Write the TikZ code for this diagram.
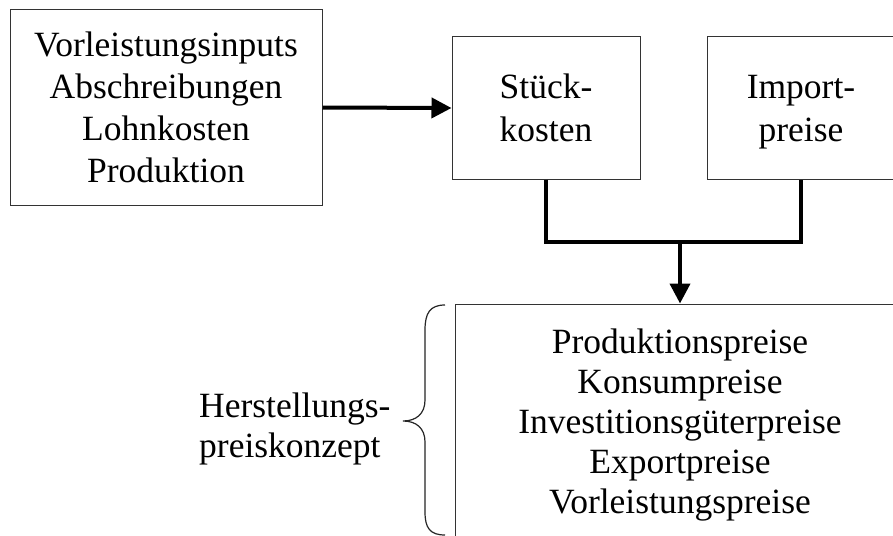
\documentclass[tikz,border=0pt]{standalone}
\usepackage{fontspec}
\setmainfont{Liberation Serif}
\usetikzlibrary{arrows.meta}
\begin{document}
\begin{tikzpicture}[x=1pt,y=-1pt,
  boxstyle/.style={draw=black!80,line width=1pt,inner sep=0pt,align=center,
    font=\fontsize{35.5}{42}\selectfont},
  flow/.style={line width=4pt,-{Triangle[length=20pt,width=20pt]}},
  joinline/.style={line width=4pt,line join=miter}]
\clip (0,0) rectangle (893,535);
\fill[white] (0,0) rectangle (893,535);
\node[boxstyle,minimum width=312pt,minimum height=195pt] (inp) at (166,107.5)
  {Vorleistungsinputs\\Abschreibungen\\Lohnkosten\\Produktion};
\node[boxstyle,minimum width=188pt,minimum height=142pt,font=\fontsize{35.5}{43}\selectfont] (st) at (546,108) {Stück-\\kosten};
\node[boxstyle,minimum width=188pt,minimum height=142pt,font=\fontsize{35.5}{43}\selectfont] (im) at (801,108) {Import-\\\raisebox{0pt}[\height][0pt]{preise}};
\node[boxstyle,minimum width=450pt,minimum height=242pt,font=\fontsize{35.5}{40}\selectfont] (bot) at (680,425)
  {Produktionspreise\\Konsumpreise\\Investitionsgüterpreise\\Exportpreise\\Vorleistungspreise};
\node[align=left,anchor=west,inner sep=0pt,font=\fontsize{35.5}{40}\selectfont] (hp) at (199,429)
  {Herstellungs-\\preiskonzept};
\coordinate (j) at (680,242);
\draw[flow] (inp.east) -- (st.west);
\draw[joinline] (st.south) |- (im.south |- j) -- (im.south);
\draw[flow] (j) -- (j |- bot.north);
\draw[line width=1.2pt,black!85] (445,305) .. controls (430,305) and (425,313) .. (425,330)
  -- (425,400) .. controls (425,414) and (416,421) .. (403,421)
  .. controls (416,421) and (425,428) .. (425,442)
  -- (425,512) .. controls (425,528) and (430,535) .. (445,535);
\end{tikzpicture}
\end{document}
